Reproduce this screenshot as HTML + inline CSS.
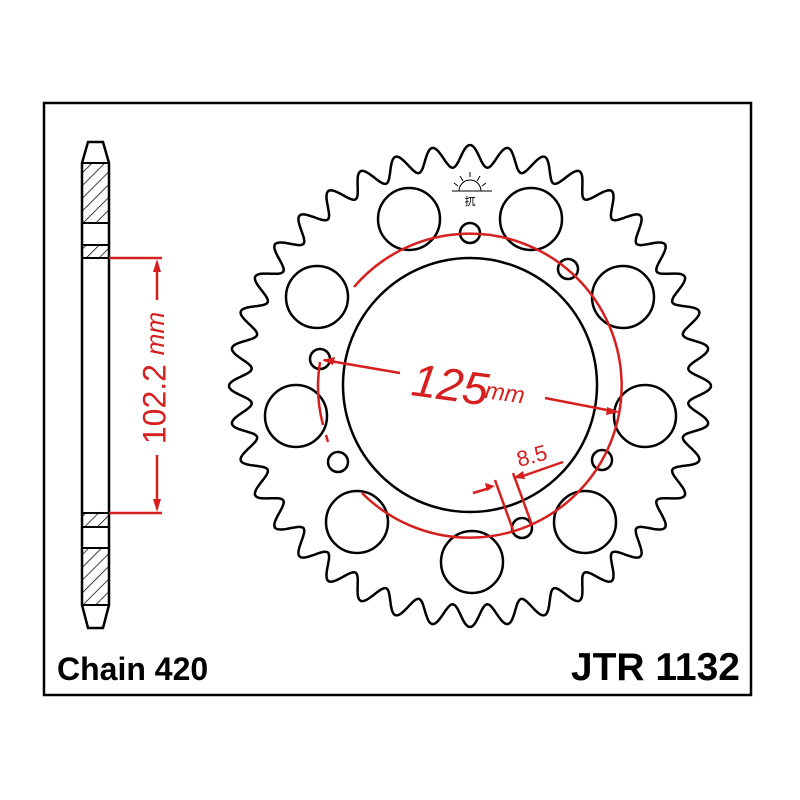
<!DOCTYPE html>
<html><head><meta charset="utf-8"><style>
html,body{margin:0;padding:0;background:#fff;width:800px;height:800px;overflow:hidden}
svg{display:block}
text{font-family:"Liberation Sans",Arial,sans-serif}
</style></head><body>
<svg id="s" width="800" height="800" viewBox="0 0 800 800" xmlns="http://www.w3.org/2000/svg">
<defs>
<pattern id="h" width="9" height="9" patternUnits="userSpaceOnUse" patternTransform="rotate(45)">
<line x1="0" y1="0" x2="0" y2="9" stroke="#000" stroke-width="1.5"/>
</pattern>
</defs>
<rect x="0" y="0" width="800" height="800" fill="#fff"/>
<rect x="44" y="103" width="707" height="592" fill="none" stroke="#000" stroke-width="2.5"/>
<path d="M88,142 L103,142 L109,163 L109,605 L103,628 L88,628 L82,605 L82,163 Z" fill="#fff" stroke="#000" stroke-width="2.5"/>
<rect x="82" y="163" width="27" height="60" fill="url(#h)" stroke="#000" stroke-width="2"/>
<rect x="82" y="245" width="27" height="13" fill="url(#h)" stroke="#000" stroke-width="2"/>
<rect x="82" y="513" width="27" height="14" fill="url(#h)" stroke="#000" stroke-width="2"/>
<rect x="82" y="548" width="27" height="57" fill="url(#h)" stroke="#000" stroke-width="2"/>
<g stroke="#d61f1f" stroke-width="2.5" fill="none">
<line x1="109" y1="258" x2="162" y2="258"/>
<line x1="109" y1="513" x2="162" y2="513"/>
<line x1="157" y1="262" x2="157" y2="300"/>
<line x1="157" y1="455" x2="157" y2="509"/>
</g>
<path d="M157,259 l-4,13 h8 z M157,512 l-4,-13 h8 z" fill="#d61f1f"/>
<text x="0" y="0" transform="translate(157,378) rotate(-90)" text-anchor="middle" dominant-baseline="middle" font-size="32" fill="#d61f1f">102.2 <tspan font-size="26" font-style="italic">mm</tspan></text>
<path id="teeth" fill="none" stroke="#000" stroke-width="2.5"/>
<circle cx="470" cy="385" r="127" fill="none" stroke="#000" stroke-width="2.5"/>
<g fill="none" stroke="#000" stroke-width="2.5">
<circle cx="409" cy="219" r="31"/><circle cx="531" cy="219" r="31"/>
<circle cx="317" cy="297" r="31"/><circle cx="623" cy="297" r="31"/>
<circle cx="296" cy="416" r="31"/><circle cx="645" cy="416" r="31"/>
<circle cx="357" cy="522" r="31"/><circle cx="472" cy="562" r="31"/><circle cx="585" cy="522" r="31"/>
<circle cx="470" cy="233" r="10"/><circle cx="568" cy="269" r="10"/>
<circle cx="320" cy="359" r="10"/><circle cx="338" cy="462" r="10"/>
<circle cx="602" cy="460" r="10"/><circle cx="522" cy="528" r="10"/>
</g>
<g stroke="#d61f1f" stroke-width="2.5" fill="none">
<path d="M354,287 A152,152 0 1 1 362,493"/>
<path d="M320,362 A152,152 0 0 0 323,425"/>
<line x1="326" y1="435" x2="328" y2="442"/>
<line x1="324" y1="360" x2="400" y2="373"/>
<line x1="545" y1="398" x2="612" y2="411"/>
<line x1="495" y1="480" x2="513" y2="530"/>
<line x1="513" y1="473" x2="532" y2="525"/>
<line x1="473" y1="493" x2="490" y2="488"/>
<line x1="563" y1="462" x2="520" y2="477"/>
</g>
<path d="M322,360 l13,-3 l-2,8 z M620,412 l-13,-5 l-1,8 z M495,486 l-10,-3 l2,8 z M513,478 l10,-7 l2,8 z" fill="#d61f1f"/>
<text x="0" y="0" transform="translate(410,395) rotate(8)" font-size="46" font-style="italic" fill="#d61f1f">125</text>
<text x="0" y="0" transform="translate(484,398) rotate(8)" font-size="24" font-style="italic" fill="#d61f1f">mm</text>
<text x="0" y="0" transform="translate(519,467) rotate(-15)" font-size="22" fill="#d61f1f">8.5</text>
<g stroke="#000" stroke-width="1" fill="none">
<path d="M459,191 A11,11 0 0 1 481,191"/>
<line x1="452" y1="191" x2="492" y2="191"/>
<line x1="470" y1="172" x2="470" y2="177"/><line x1="460" y1="176" x2="463" y2="181"/>
<line x1="480" y1="176" x2="477" y2="181"/><line x1="454" y1="183" x2="458" y2="186"/>
<line x1="486" y1="183" x2="482" y2="186"/>
</g>
<text x="470" y="205" text-anchor="middle" font-size="11" fill="#000" font-family="Noto Sans CJK SC,sans-serif">扤</text>
<text x="57" y="680" font-size="32" font-weight="bold" fill="#000">Chain 420</text>
<text x="740" y="680" text-anchor="end" font-size="39" font-weight="bold" fill="#000">JTR 1132</text>
</svg>
<script>
(function(){
var cx=470,cy=386,N=40,tip=241,root=219,pts=[],M=N*60;
for(var i=0;i<=M;i++){
 var a=i/M*2*Math.PI;
 var g=0.5+0.5*Math.cos(2*Math.PI*i/M*N);
 var r=root+(tip-root)*g;
 pts.push((cx+r*Math.sin(a)).toFixed(1)+","+(cy-r*Math.cos(a)).toFixed(1));
}
document.getElementById("teeth").setAttribute("d","M"+pts.join(" L")+"Z");
})();
</script>
</body></html>
